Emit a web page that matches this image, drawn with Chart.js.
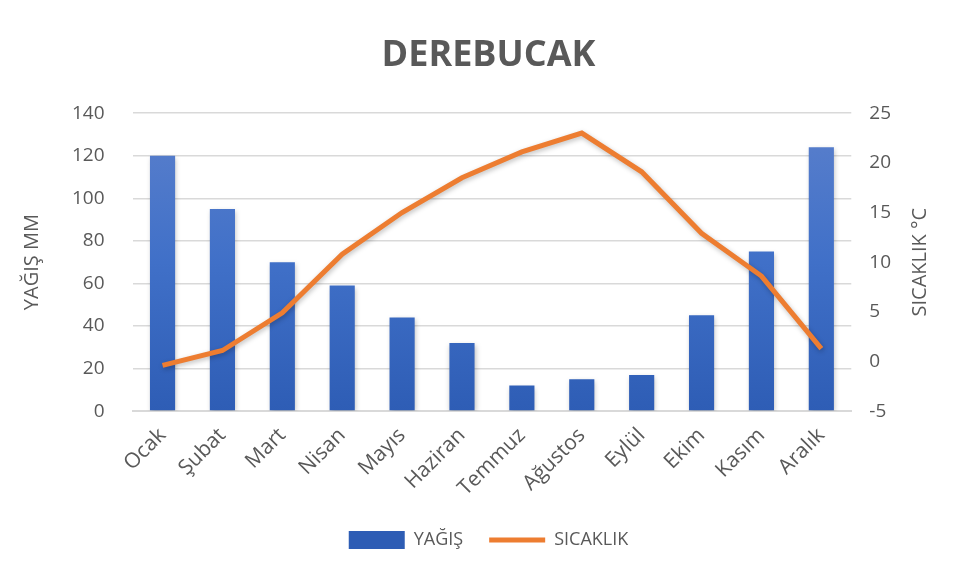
<!DOCTYPE html>
<html lang="tr">
<head>
  <meta charset="UTF-8">
  <title>DEREBUCAK</title>
  <script src="https://cdn.jsdelivr.net/npm/chart.js"></script>
  <style>
    body { margin: 0; background: #fff; }
    #wrap { width: 957px; height: 581px; position: relative; }
  </style>
</head>
<body>
  <div id="wrap"><canvas id="chart"></canvas></div>
  <script>
    const months = ['Ocak', 'Şubat', 'Mart', 'Nisan', 'Mayıs', 'Haziran', 'Temmuz', 'Ağustos', 'Eylül', 'Ekim', 'Kasım', 'Aralık'];
    const rainfall = [120, 95, 70, 59, 44, 32, 12, 15, 17, 45, 75, 124];
    const temperature = [-0.4, 1.1, 4.9, 10.8, 15, 18.5, 21.1, 23, 19.1, 12.9, 8.6, 1.3];

    const textColor = '#595959';
    const font = '"Open Sans", "Noto Sans", sans-serif';

    function barGradient(context) {
      const area = context.chart.chartArea;
      if (!area) return '#4472C4';
      const g = context.chart.ctx.createLinearGradient(0, area.top, 0, area.bottom);
      g.addColorStop(0, '#5b80cc');
      g.addColorStop(0.5, '#4070c8');
      g.addColorStop(1, '#2e5db5');
      return g;
    }

    // right axis title reads bottom-to-top, like the left one
    const rightTitle = {
      id: 'rightTitle',
      afterDraw(chart) {
        const c = chart.ctx;
        const a = chart.chartArea;
        c.save();
        c.translate(chart.width - 37, (a.top + a.bottom) / 2);
        c.rotate(-Math.PI / 2);
        c.fillStyle = textColor;
        c.font = '20px ' + font;
        c.textAlign = 'center';
        c.textBaseline = 'middle';
        c.fillText('SICAKLIK °C', 0, 0);
        c.restore();
      }
    };

    // soft drop shadow under bars and line
    const softShadow = {
      id: 'softShadow',
      beforeDatasetsDraw(chart) {
        const c = chart.ctx;
        c.save();
        c.shadowColor = 'rgba(0,0,0,0.25)';
        c.shadowBlur = 5;
        c.shadowOffsetX = 1;
        c.shadowOffsetY = 2;
      },
      afterDatasetsDraw(chart) {
        chart.ctx.restore();
      }
    };

    const ctx = document.getElementById('chart').getContext('2d');
    new Chart(ctx, {
      data: {
        labels: months,
        datasets: [
          {
            type: 'line',
            label: 'SICAKLIK',
            data: temperature,
            yAxisID: 'y1',
            borderColor: '#ED7D31',
            backgroundColor: '#ED7D31',
            borderWidth: 5,
            pointRadius: 0,
            pointStyle: 'line',
            tension: 0,
            order: 0
          },
          {
            type: 'bar',
            label: 'YAĞIŞ',
            data: rainfall,
            yAxisID: 'y',
            backgroundColor: barGradient,
            pointStyle: 'rect',
            categoryPercentage: 0.84,
            barPercentage: 0.5,
            order: 1
          }
        ]
      },
      options: {
        responsive: true,
        maintainAspectRatio: false,
        animation: false,
        layout: { padding: { left: 20, right: 0, top: 30, bottom: 22 } },
        plugins: {
          title: {
            display: true,
            text: 'DEREBUCAK',
            color: textColor,
            font: { family: font, size: 36, weight: 'bold' },
            padding: { top: 4, bottom: 36 }
          },
          legend: {
            position: 'bottom',
            reverse: true,
            labels: {
              usePointStyle: true,
              pointStyleWidth: 56,
              color: textColor,
              font: { family: font, size: 18 },
              padding: 26
            }
          },
          tooltip: { enabled: false }
        },
        scales: {
          x: {
            grid: { display: false },
            border: { color: '#d9d9d9', width: 2 },
            ticks: {
              color: textColor,
              font: { family: font, size: 21 },
              maxRotation: 45,
              minRotation: 45,
              padding: 4
            }
          },
          y: {
            position: 'left',
            min: 0,
            max: 140,
            ticks: { stepSize: 20, color: textColor, font: { family: font, size: 19 }, padding: 28 },
            grid: { color: '#d9d9d9', lineWidth: 1.5, drawTicks: false },
            border: { display: false },
            title: { display: true, text: 'YAĞIŞ MM', color: textColor, font: { family: font, size: 20 }, padding: 0 }
          },
          y1: {
            position: 'right',
            min: -5,
            max: 25,
            ticks: { stepSize: 5, color: textColor, font: { family: font, size: 19 }, padding: 18 },
            grid: { display: false, drawTicks: false },
            border: { display: false },
            afterFit(axis) { axis.width += 48; }
          }
        }
      },
      plugins: [softShadow, rightTitle]
    });
  </script>
</body>
</html>
